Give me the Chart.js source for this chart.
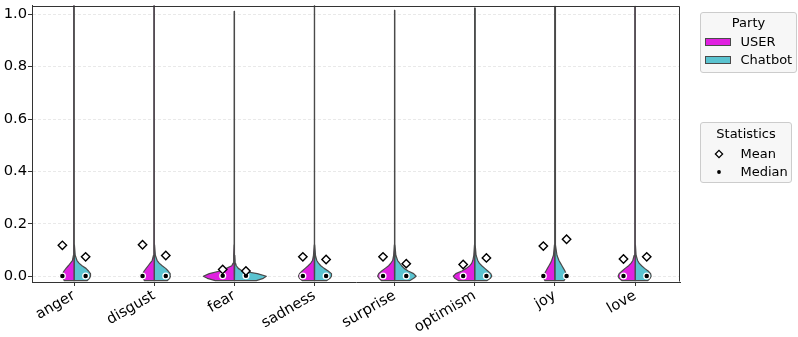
<!DOCTYPE html>
<html>
<head>
<meta charset="utf-8">
<script src="https://cdn.jsdelivr.net/npm/chart.js@4/dist/chart.umd.min.js"></script>
<style>
  html, body { margin: 0; padding: 0; background: #ffffff; }
  #wrap { position: relative; width: 798px; height: 337px; font-family: 'DejaVu Sans', sans-serif; }
  #c { position: absolute; left: 0; top: 0; }
  .lbox { position: absolute; border: 1px solid #cccccc; border-radius: 3px; background: #f7f7f7; box-sizing: border-box; }
  .ltxt { position: absolute; font: 13px 'DejaVu Sans', sans-serif; line-height: 16px; color: #000; white-space: nowrap; }
</style>
</head>
<body>
<div id="wrap">
  <canvas id="c" width="798" height="337"></canvas>
</div>
<script>
// ---------------- DATA ----------------
const categories = ['anger', 'disgust', 'fear', 'sadness', 'surprise', 'optimism', 'joy', 'love'];
const parties = ['USER', 'Chatbot'];
const statLabels = ['Mean', 'Median'];
const yTicks = [0.0, 0.2, 0.4, 0.6, 0.8, 1.0];

const meanUser    = [0.118, 0.120, 0.026, 0.074, 0.074, 0.045, 0.115, 0.066];
const meanChatbot = [0.074, 0.079, 0.020, 0.064, 0.048, 0.070, 0.141, 0.074];
const medianUser    = [0.001, 0.001, 0.002, 0.001, 0.001, 0.001, 0.001, 0.001];
const medianChatbot = [0.001, 0.001, 0.002, 0.001, 0.001, 0.001, 0.001, 0.001];

// value levels at which the violin half-widths (density) are read
const densityLevels = [-0.017, -0.008, 0.0, 0.01, 0.02, 0.03, 0.04, 0.05, 0.06, 0.08, 0.12];
// upper end of each violin's thin tail
const violinTop = [1.04, 1.04, 1.011, 1.04, 1.015, 1.023, 1.03, 1.03];

// half-widths of the violins (relative density) at densityLevels
const densityUser = [
  [9.7, 11.0, 11.7, 11.3, 10.0, 8.0, 5.7, 3.6, 1.6, 0.6, 0.3],   // anger
  [9.7, 11.0, 11.7, 11.3, 10.0, 8.0, 6.0, 4.0, 2.0, 0.7, 0.3],   // disgust
  [19.0, 27.0, 31.0, 25.0, 14.5, 8.0, 2.5, 1.2, 0.8, 0.5, 0.3],  // fear
  [12.0, 15.0, 16.0, 15.0, 12.3, 9.3, 6.3, 3.7, 2.0, 1.0, 0.3],  // sadness
  [13.0, 15.5, 17.0, 16.0, 13.0, 9.5, 6.0, 3.8, 2.0, 1.0, 0.3],  // surprise
  [16.0, 20.0, 21.5, 19.0, 13.0, 8.5, 5.0, 3.0, 2.0, 1.0, 0.3],  // optimism
  [10.0, 11.3, 11.7, 10.5, 9.0, 7.5, 6.0, 4.5, 3.3, 1.5, 0.5],   // joy
  [13.0, 16.0, 17.0, 16.0, 13.0, 10.0, 6.5, 4.0, 2.3, 1.0, 0.3]  // love
];
const densityChatbot = [
  [13.0, 15.5, 16.5, 16.5, 14.5, 12.0, 8.0, 5.0, 3.0, 1.2, 0.4], // anger
  [13.0, 15.5, 16.3, 16.0, 14.0, 11.5, 8.0, 5.0, 3.0, 1.2, 0.4], // disgust
  [22.0, 29.0, 32.0, 23.0, 8.0, 4.0, 2.0, 1.2, 0.8, 0.5, 0.3],   // fear
  [12.0, 15.5, 17.0, 17.0, 13.7, 9.7, 6.3, 4.0, 2.3, 1.0, 0.3],  // sadness
  [15.0, 19.0, 21.5, 19.0, 13.5, 9.5, 7.0, 5.0, 3.0, 1.2, 0.3],  // surprise
  [12.0, 15.5, 17.0, 16.0, 13.0, 10.0, 7.0, 4.5, 3.0, 1.3, 0.4], // optimism
  [9.0, 10.5, 11.0, 11.0, 10.0, 8.5, 7.0, 5.5, 4.0, 2.0, 0.5],   // joy
  [12.5, 15.0, 16.0, 15.5, 13.0, 9.5, 6.5, 4.0, 2.5, 1.0, 0.3]   // love
];

// ---------------- STYLE / LAYOUT ----------------
const partyColors = ['#e020e0', '#5ac3d0'];
const violinEdge = '#4a4a4a';
const DENSITY_SCALE = 1 / 80.14;   // density units -> category units
const STAT_OFFSET = 0.145;          // horizontal offset of mean/median markers
const FONT = "'DejaVu Sans', sans-serif";

function violinPoints(i, side, widths) {
  const pts = [{x: i, y: densityLevels[0]}];
  widths.forEach((w, k) => pts.push({x: i + side * w * DENSITY_SCALE, y: densityLevels[k]}));
  const tailW = widths[widths.length - 1];
  pts.push({x: i + side * tailW * DENSITY_SCALE, y: violinTop[i]});
  pts.push({x: i, y: violinTop[i]});
  pts.push({x: i, y: densityLevels[0]});
  return pts;
}

const datasets = [];
// mean markers (drawn on top -> placed first)
[meanUser, meanChatbot].forEach((arr, p) => {
  const side = p === 0 ? -1 : 1;
  datasets.push({
    type: 'line', showLine: false, label: 'mean ' + parties[p],
    data: arr.map((v, i) => ({x: i + side * STAT_OFFSET, y: v})),
    pointStyle: 'rectRot', pointRadius: 4.2, pointBorderWidth: 1.4,
    pointBackgroundColor: '#ffffff', pointBorderColor: '#000000', order: 0
  });
});
[medianUser, medianChatbot].forEach((arr, p) => {
  const side = p === 0 ? -1 : 1;
  datasets.push({
    type: 'line', showLine: false, label: 'median ' + parties[p],
    data: arr.map((v, i) => ({x: i + side * STAT_OFFSET, y: v})),
    pointStyle: 'circle', pointRadius: 2.9, pointBorderWidth: 1.3,
    pointBackgroundColor: '#000000', pointBorderColor: '#ffffff', order: 0
  });
});
// violin halves
categories.forEach((cat, i) => {
  [densityUser, densityChatbot].forEach((dens, p) => {
    const side = p === 0 ? -1 : 1;
    datasets.push({
      type: 'line', label: cat + ' ' + parties[p],
      data: violinPoints(i, side, dens[i]),
      fill: 'shape', backgroundColor: partyColors[p],
      borderColor: violinEdge, borderWidth: 1.2, borderJoinStyle: 'round',
      pointRadius: 0, tension: 0, order: 1
    });
  });
});

const framePlugin = {
  id: 'frame',
  afterDatasetsDraw(chart) {
    const {ctx, chartArea: a} = chart;
    ctx.save();
    ctx.strokeStyle = '#333333';
    ctx.lineWidth = 1;
    ctx.beginPath();
    const L = Math.round(a.left) + 0.5, R = Math.round(a.right) - 0.5;
    const T = Math.round(a.top) + 0.5, B = Math.round(a.bottom) - 0.5;
    ctx.moveTo(L, T); ctx.lineTo(R, T); ctx.lineTo(R, B);
    ctx.stroke();
    ctx.restore();
  }
};

new Chart(document.getElementById('c'), {
  type: 'line',
  data: {datasets},
  options: {
    responsive: false,
    animation: false,
    events: [],
    layout: {padding: {top: 5, right: 118, left: 0, bottom: 0}},
    plugins: {legend: {display: false}, tooltip: {enabled: false}},
    scales: {
      x: {
        type: 'linear', min: -0.524, max: 7.56,
        afterBuildTicks: (axis) => { axis.ticks = categories.map((c, i) => ({value: i})); },
        afterFit: (axis) => { axis.height = 55; axis.paddingLeft = 0; axis.paddingRight = 0; },
        ticks: {
          callback: (v) => categories[v], autoSkip: false,
          minRotation: 30, maxRotation: 30, padding: 1,
          color: '#000', font: {family: FONT, size: 14.7}
        },
        grid: {drawOnChartArea: false, tickLength: 4, tickColor: '#333333', tickWidth: 1},
        border: {color: '#333333', width: 1}
      },
      y: {
        type: 'linear', min: -0.022, max: 1.033,
        afterBuildTicks: (axis) => { axis.ticks = yTicks.map(v => ({value: v})); },
        afterFit: (axis) => { axis.width = 32; axis.paddingTop = 0; axis.paddingBottom = 0; },
        ticks: {
          callback: (v) => v.toFixed(1), padding: 1,
          color: '#000', font: {family: FONT, size: 14.7}
        },
        grid: {color: '#e3e3e3', lineWidth: 0.8, tickLength: 4, tickColor: '#333333', tickWidth: 1},
        border: {color: '#333333', width: 1, dash: [3, 2]}
      }
    }
  },
  plugins: [framePlugin]
});

// ---------------- HTML LEGEND ----------------
const wrap = document.getElementById('wrap');
function el(cls, style, text) {
  const d = document.createElement('div');
  d.className = cls;
  Object.assign(d.style, style);
  if (text !== undefined) d.textContent = text;
  wrap.appendChild(d);
  return d;
}
// Party box
el('lbox', {left: '700px', top: '12px', width: '97px', height: '61px'});
el('ltxt', {left: '700px', width: '97px', top: '14.5px', textAlign: 'center'}, 'Party');
parties.forEach((p, k) => {
  const cy = 42.3 + k * 17.7;
  el('', {position: 'absolute', left: '705px', top: (cy - 4) + 'px', width: '26px', height: '8px',
          background: partyColors[k], border: '1px solid #4a4a4a', boxSizing: 'border-box'});
  el('ltxt', {left: '740.5px', top: (cy - 8) + 'px'}, p);
});
// Statistics box
el('lbox', {left: '700px', top: '122px', width: '92px', height: '61px'});
el('ltxt', {left: '700px', width: '92px', top: '125.5px', textAlign: 'center'}, 'Statistics');
statLabels.forEach((s, k) => {
  const cy = 154 + k * 17.7;
  const m = document.createElementNS('http://www.w3.org/2000/svg', 'svg');
  m.setAttribute('width', '12'); m.setAttribute('height', '12');
  Object.assign(m.style, {position: 'absolute', left: '713px', top: (cy - 6) + 'px'});
  if (k === 0) {
    m.innerHTML = '<polygon points="6,2.4 9.6,6 6,9.6 2.4,6" fill="#fff" stroke="#000" stroke-width="1.3"/>';
  } else {
    m.innerHTML = '<circle cx="6" cy="6" r="1.9" fill="#000"/>';
  }
  wrap.appendChild(m);
  el('ltxt', {left: '740.5px', top: (cy - 8) + 'px'}, s);
});
</script>
</body>
</html>
